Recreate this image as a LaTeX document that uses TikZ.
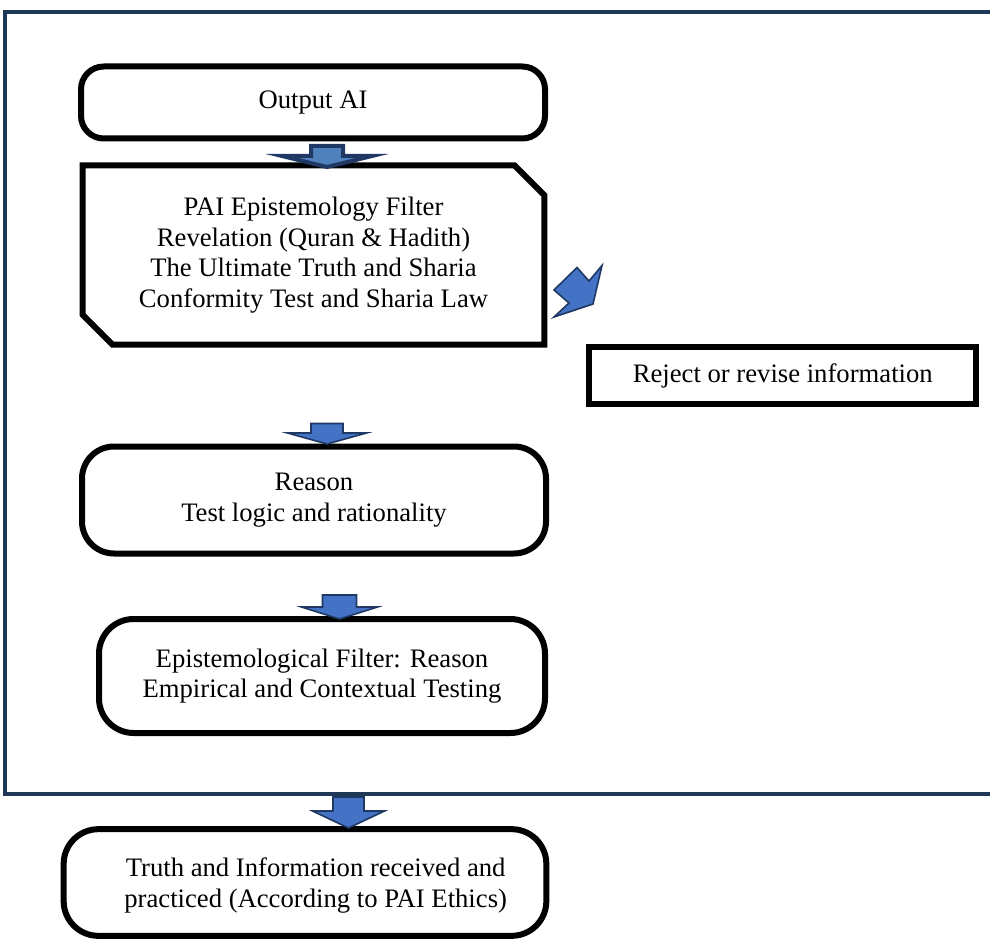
\documentclass[tikz,border=0pt]{standalone}
\usepackage{fontspec}
\setmainfont{Liberation Serif}
\definecolor{framenavy}{RGB}{31,56,88}
\definecolor{arrblue}{RGB}{68,114,196}
\definecolor{arrlight}{RGB}{79,129,189}
\definecolor{arrline}{RGB}{31,56,100}

\tikzset{pics/blockdown/.style n args={4}{code={
	\path[pic actions] (-#1,0) -- (#1,0) -- (#1,#3) -- (#2,#3) -- (0,#4) -- (-#2,#3) -- (-#1,#3) -- cycle;}}}

\begin{document}
\begin{tikzpicture}[x=0.75pt,y=-0.75pt,
	txt/.style={align=center,font=\fontsize{20}{23}\selectfont,inner sep=0pt},
	rbox/.style={txt,draw,line width=4.5pt,rounded corners=#1},
	sqbox/.style={txt,draw,line width=4.5pt},
	blk/.style={fill=arrblue,draw=arrline,line width=1.2pt},
	blkfat/.style={fill=arrlight,draw=arrline,line width=3pt}]
	\useasboundingbox (0,0) rectangle (990,942);
	% outer frame
	\draw[framenavy,line width=3pt] (1000,12.5) -- (5,12.5) -- (5,794) -- (1000,794);
	% boxes
	\node [rbox=17pt, minimum width=348pt, minimum height=54pt] (out) at (313,102.5) {Output AI};
	\node [txt, minimum width=346pt, minimum height=134pt] (pai) at (313.5,255) {PAI Epistemology Filter\\Revelation (Quran \& Hadith)\\The Ultimate Truth and Sharia\\Conformity Test and Sharia Law};
	\draw[line width=4.5pt] ([xshift=-22.5pt]pai.north east) -- (pai.north west) -- ([yshift=22.5pt]pai.south west)
		-- ([xshift=22.5pt]pai.south west) -- (pai.south east) -- ([yshift=-22.5pt]pai.north east) -- cycle;
	\node [sqbox, minimum width=290.6pt, minimum height=42.75pt] (rej) at (782.75,375.5) {Reject or revise information};
	\node [rbox=24pt, minimum width=348pt, minimum height=80.25pt] (rsn) at (314,500) {Reason\\Test logic and rationality};
	\node [rbox=26pt, minimum width=334.5pt, minimum height=85.5pt] (emp) at (322,676) {Epistemological Filter: Reason\\Empirical and Contextual Testing};
	\node [rbox=26pt, minimum width=362pt, minimum height=80pt] (truth) at (305,882.5) {};
	\node [txt] (truthtxt) at ([xshift=8pt,yshift=-2pt]truth.center) {Truth and Information received and\\practiced (According to PAI Ethics)};
	% arrows
	\pic[blkfat] at (327,146) {blockdown={16}{45}{10}{21}};
	\pic[blk] at (327,423.5) {blockdown={16}{39.5}{9.5}{20.5}};
	\pic[blk] at (339.5,595) {blockdown={17}{38}{12}{24}};
	\pic[blk] at (348.5,797) {blockdown={15.5}{36}{14}{31}};
	\draw[blk] (554,317) -- (569,303) -- (554,290) -- (577,267.5) -- (589,281) -- (602,265.5) -- (593,304) -- cycle;
\end{tikzpicture}
\end{document}
